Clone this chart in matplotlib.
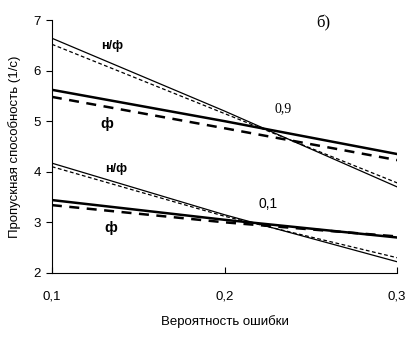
import numpy as np
import matplotlib.pyplot as plt

plt.rcParams['font.family'] = ['Liberation Sans', 'DejaVu Sans']

# probability of error
p = [0.1, 0.2, 0.3]

# group 0.9
nf_09 = [6.64, 5.20, 3.70]
nf_09_d = [6.52, 5.15, 3.78]
f_09 = [5.62, 5.00, 4.35]
f_09_d = [5.48, 4.86, 4.23]

# group 0.1
nf_01 = [4.17, 3.15, 2.22]
nf_01_d = [4.10, 3.12, 2.30]
f_01 = [3.44, 3.05, 2.70]
f_01_d = [3.34, 3.00, 2.72]

fig = plt.figure(figsize=(4.15, 3.39), dpi=100)
ax = fig.add_axes([0.125, 0.195, 0.832, 0.746])

ax.plot(p, nf_09, color='black', lw=0.9)
ax.plot(p, nf_09_d, color='black', lw=0.9, ls=(0, (3, 2)))
ax.plot(p, f_09, color='black', lw=1.8)
ax.plot(p, f_09_d, color='black', lw=1.8, ls=(0, (4, 3)))

ax.plot(p, nf_01, color='black', lw=0.9)
ax.plot(p, nf_01_d, color='black', lw=0.9, ls=(0, (3, 2)))
ax.plot(p, f_01, color='black', lw=1.8)
ax.plot(p, f_01_d, color='black', lw=1.8, ls=(0, (4, 3)))

ax.set_xlim(0.1, 0.3)
ax.set_ylim(2, 7)
ax.set_xticks([0.1, 0.2, 0.3])
ax.set_xticklabels(['0,1', '0,2', '0,3'])
ax.set_yticks([2, 3, 4, 5, 6, 7])
ax.spines['top'].set_visible(False)
ax.spines['right'].set_visible(False)
ax.tick_params(axis='x', direction='in', length=4, pad=13, labelsize=9.5)
ax.tick_params(axis='y', direction='out', length=4, pad=4, labelsize=9.5)

ax.set_xlabel('Вероятность ошибки', fontsize=9.5, labelpad=9)
ax.set_ylabel('Пропускная способность (1/с)', fontsize=9.5, labelpad=9)

kw = dict(fontsize=9, ha='center', va='center', fontweight='bold')
ax.text(0.135, 6.48, 'н/ф', **kw)
ax.text(0.132, 4.94, 'ф', fontweight='bold', fontsize=10.5, ha='center', va='center')
ax.text(0.234, 5.24, '0,9', family='Liberation Serif', fontsize=10, ha='center', va='center')
ax.text(0.137, 4.06, 'н/ф', **kw)
ax.text(0.134, 2.88, 'ф', fontweight='bold', fontsize=10.5, ha='center', va='center')
ax.text(0.225, 3.36, '0,1', fontsize=10, ha='center', va='center')
ax.text(0.257, 6.94, 'б)', family='Liberation Serif', fontsize=12, ha='center', va='center',
        clip_on=False)

fig.savefig('out.png', dpi=100)
